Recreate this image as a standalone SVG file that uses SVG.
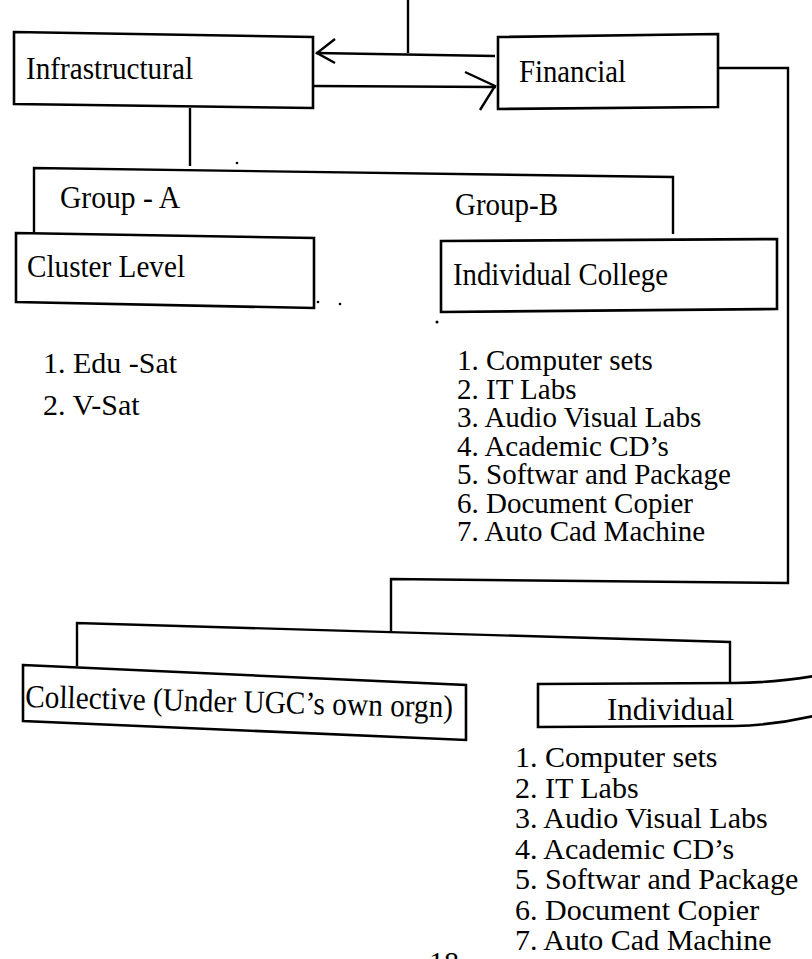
<svg xmlns="http://www.w3.org/2000/svg" width="812" height="959" viewBox="0 0 812 959">
<style>
.box{fill:#fff;stroke:#000;stroke-width:2.6;stroke-linejoin:miter}
.ln{fill:none;stroke:#000;stroke-width:2.4;stroke-linecap:butt;stroke-linejoin:miter}
.t{font-family:"Liberation Serif","Times New Roman",serif;font-size:32px;fill:#000}
.li{font-family:"Liberation Serif","Times New Roman",serif;font-size:30px;fill:#000}
.lu{font-family:"Liberation Serif","Times New Roman",serif;font-size:29px;fill:#000}
</style>
<rect width="812" height="959" fill="#fff"/>
<g id="connectors">
  <path class="ln" d="M408 0 V53"/>
  <path class="ln" d="M495 56 L316 53"/>
  <path class="ln" d="M335 39 L317 53 L335 63"/>
  <path class="ln" d="M313 86 L496 87"/>
  <path class="ln" d="M465 72 L495 86 L480 110"/>
  <path class="ln" d="M190 108 V166"/>
  <path class="ln" d="M34 232 V168 L673 177 V234"/>
  <path class="ln" d="M719 68 H788 V583 L391 579 V633"/>
  <path class="ln" d="M77 666 V623 L730 642 V683"/>
</g>
<g id="infrastructural">
  <polygon class="box" points="14,32 313,37 313,108 14,104"/>
  <text class="t" x="26" y="79" textLength="167" lengthAdjust="spacingAndGlyphs">Infrastructural</text>
</g>
<g id="financial">
  <polygon class="box" points="498,37 718,34 718,107 498,109"/>
  <text class="t" x="519" y="82" textLength="107" lengthAdjust="spacingAndGlyphs">Financial</text>
</g>
<g id="group-a-label">
  <text class="t" x="60" y="208" textLength="120" lengthAdjust="spacingAndGlyphs">Group - A</text>
</g>
<g id="group-b-label">
  <text class="t" x="455" y="215" textLength="103" lengthAdjust="spacingAndGlyphs">Group-B</text>
</g>
<g id="cluster-level">
  <polygon class="box" points="16,233 314,238 314,308 16,302"/>
  <text class="t" x="27" y="277" textLength="158" lengthAdjust="spacingAndGlyphs">Cluster Level</text>
</g>
<g id="individual-college">
  <polygon class="box" points="441,241 777,239 777,309 441,312"/>
  <text class="t" x="453" y="285" textLength="215" lengthAdjust="spacingAndGlyphs">Individual College</text>
</g>
<g id="dots" fill="#000">
  <circle cx="237" cy="163" r="1.3"/>
  <circle cx="318" cy="302" r="1.3"/>
  <circle cx="340" cy="304" r="1.3"/>
  <circle cx="437" cy="322" r="1.5"/>
</g>
<g id="cluster-list">
  <text class="li" x="43" y="373">1. Edu -Sat</text>
  <text class="li" x="43" y="415">2. V-Sat</text>
</g>
<g id="college-list">
  <text class="lu" x="457" y="370">1. Computer sets</text>
  <text class="lu" x="457" y="398.5">2. IT Labs</text>
  <text class="lu" x="457" y="427">3. Audio Visual Labs</text>
  <text class="lu" x="457" y="455.5">4. Academic CD’s</text>
  <text class="lu" x="457" y="484">5. Softwar and Package</text>
  <text class="lu" x="457" y="512.5">6. Document Copier</text>
  <text class="lu" x="457" y="541">7. Auto Cad Machine</text>
</g>
<g id="collective">
  <polygon class="box" points="23,665 466,685 466,740 23,721"/>
  <text class="t" x="25" y="707" textLength="428" lengthAdjust="spacingAndGlyphs" transform="rotate(1.4 25 707)">Collective (Under UGC’s own orgn)</text>
</g>
<g id="individual">
  <path class="box" d="M814 676 Q770 683 735 683 L538 684 L538 727 L735 726 Q775 725 814 716"/>
  <text class="t" x="607" y="720" textLength="127" lengthAdjust="spacingAndGlyphs">Individual</text>
</g>
<g id="individual-list">
  <text class="li" x="515" y="767">1. Computer sets</text>
  <text class="li" x="515" y="797.5">2. IT Labs</text>
  <text class="li" x="515" y="828">3. Audio Visual Labs</text>
  <text class="li" x="515" y="858.5">4. Academic CD’s</text>
  <text class="li" x="515" y="889">5. Softwar and Package</text>
  <text class="li" x="515" y="919.5">6. Document Copier</text>
  <text class="li" x="515" y="950">7. Auto Cad Machine</text>
</g>
<g id="page-number">
  <text class="li" x="429" y="972">18</text>
</g>
</svg>
